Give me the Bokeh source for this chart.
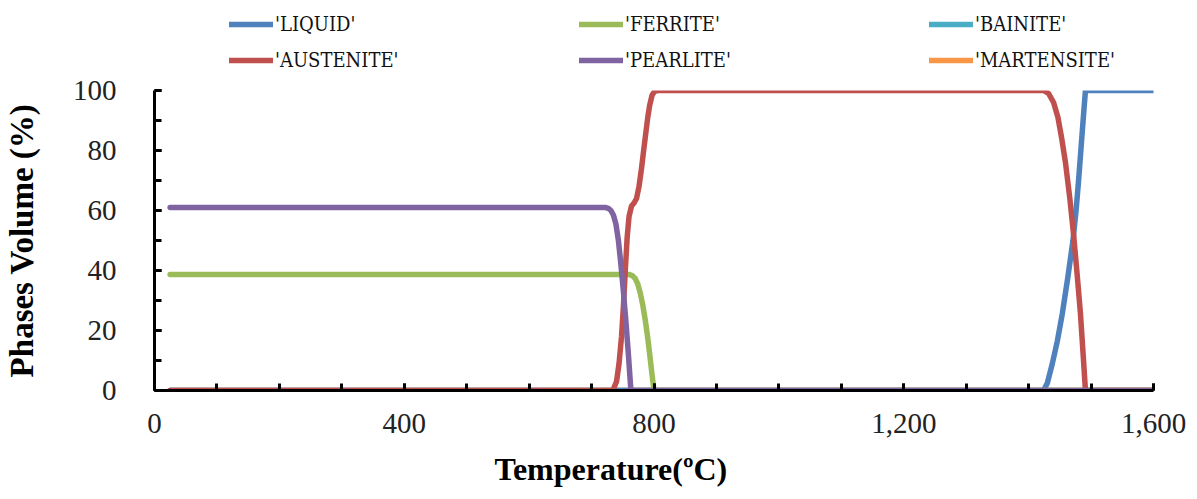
from bokeh.plotting import figure
from bokeh.layouts import column
from bokeh.models import Legend, LegendItem, NumeralTickFormatter, FixedTicker, Title, Range1d
from bokeh.embed import file_html
from bokeh.resources import INLINE

# ---- data ----
T_LIQUID = [25, 1424, 1430, 1438, 1446, 1454, 1463, 1471, 1476, 1480, 1484, 1488, 1491, 1600]
LIQUID = [0, 0, 2.5, 9, 16.5, 25.7, 38, 50, 60, 70, 81, 92, 100, 100]

T_AUSTENITE = [25, 734, 740, 744, 748, 751, 754, 757, 760, 764, 768, 772, 776, 780, 784,
               787, 790, 793, 797, 801, 806,
               1424, 1432, 1440, 1447, 1453, 1459, 1466, 1472, 1478, 1483, 1487, 1491, 1600]
AUSTENITE = [0, 0, 3, 9, 18, 28, 40, 51, 58, 61.5, 62.5, 64, 68, 74, 81,
             86, 91, 95, 98.5, 99.7, 100,
             100, 99, 96, 91, 84, 76, 64, 52, 38, 25.7, 13, 0, 0]

T_FERRITE = [25, 760, 765, 770, 774, 778, 782, 786, 790, 794, 797, 800, 1600]
FERRITE = [38.7, 38.7, 38.3, 37.3, 35.5, 32.5, 28.5, 23.5, 17.5, 10.5, 5, 0, 0]

T_PEARLITE = [25, 722, 727, 731, 735, 739, 743, 747, 751, 755, 759, 763, 1600]
PEARLITE = [61, 61, 60.7, 60, 58.5, 55.5, 50, 42, 33, 23, 12, 0, 0]

T_BAINITE = [25, 1600]
BAINITE = [0, 0]

T_MARTENSITE = [25, 1600]
MARTENSITE = [0, 0]

X_TICKS = [0, 400, 800, 1200, 1600]
Y_TICKS = [0, 20, 40, 60, 80, 100]

SERIES = {
    "LIQUID": (T_LIQUID, LIQUID),
    "FERRITE": (T_FERRITE, FERRITE),
    "BAINITE": (T_BAINITE, BAINITE),
    "AUSTENITE": (T_AUSTENITE, AUSTENITE),
    "PEARLITE": (T_PEARLITE, PEARLITE),
    "MARTENSITE": (T_MARTENSITE, MARTENSITE),
}
LEGEND_ORDER = ["LIQUID", "FERRITE", "BAINITE", "AUSTENITE", "PEARLITE", "MARTENSITE"]
DRAW_ORDER = ["BAINITE", "MARTENSITE", "LIQUID", "FERRITE", "AUSTENITE", "PEARLITE"]
COLORS = {
    "LIQUID": "#4F81BD",
    "AUSTENITE": "#C0504D",
    "FERRITE": "#9BBB59",
    "PEARLITE": "#8064A2",
    "BAINITE": "#4BACC6",
    "MARTENSITE": "#F79646",
}

TOP = 15
p = figure(width=1197, height=499 - 90 + TOP, output_backend="svg", toolbar_location=None,
           x_range=Range1d(0, 1600), y_range=Range1d(0, 100),
           min_border_left=153, min_border_right=44, min_border_top=TOP, min_border_bottom=109)
p.outline_line_color = None
p.xgrid.visible = False
p.ygrid.visible = False

LW = 5.5
kw = dict(line_width=LW, line_cap="round", line_join="round")
for name in DRAW_ORDER:
    xs, ys = SERIES[name]
    p.line(xs, ys, line_color=COLORS[name], **kw)

serif = "Liberation Serif"
for ax in (p.xaxis[0], p.yaxis[0]):
    ax.axis_line_width = 3
    ax.axis_line_color = "black"
    ax.major_tick_line_width = 3
    ax.minor_tick_line_width = 3
    ax.major_tick_line_color = "black"
    ax.minor_tick_line_color = "black"
    ax.major_tick_in = 7
    ax.major_tick_out = 0
    ax.minor_tick_in = 7
    ax.minor_tick_out = 0
    ax.major_label_text_font = serif
    ax.major_label_text_font_size = "29px"
    ax.major_label_text_color = "#222222"

p.xaxis.ticker = FixedTicker(ticks=X_TICKS, minor_ticks=list(range(0, 1601, 100)))
p.yaxis.ticker = FixedTicker(ticks=Y_TICKS, minor_ticks=list(range(0, 101, 10)))
p.xaxis.formatter = NumeralTickFormatter(format="0,0")
p.xaxis.major_label_standoff = 23
p.yaxis.major_label_standoff = 38

xt = Title(text="Temperature(ºC)", align="left", offset=340, standoff=26, text_line_height=0.8,
           text_font=serif, text_font_size="32px", text_font_style="bold", text_color="black")
p.add_layout(xt, "below")

p.yaxis.axis_label = "Phases Volume (%)"
p.yaxis.axis_label_text_font = serif
p.yaxis.axis_label_text_font_size = "33px"
p.yaxis.axis_label_text_font_style = "bold"
p.yaxis.axis_label_text_color = "black"
p.yaxis.axis_label_standoff = 30

# ---- legend strip above the chart (same series, drawn outside its view) ----
LH = 90 - TOP
lg = figure(width=1197, height=LH, output_backend="svg", toolbar_location=None,
            x_range=Range1d(-20, -10), y_range=Range1d(-20, -10),
            min_border_left=153, min_border_right=44, min_border_top=0, min_border_bottom=0,
            x_axis_type=None, y_axis_type=None)
lg.outline_line_color = None
lg.xgrid.visible = False
lg.ygrid.visible = False
rend = {}
for name in LEGEND_ORDER:
    xs, ys = SERIES[name]
    rend[name] = lg.line(xs, ys, line_color=COLORS[name], line_width=LW, line_cap="round")
items = [LegendItem(label="'%s'" % name, renderers=[rend[name]]) for name in LEGEND_ORDER]
legend = Legend(items=items, orientation="horizontal", ncols=3,
                location=(75, 3), padding=0, margin=0, spacing=12,
                glyph_width=44, glyph_height=24, label_standoff=2, label_width=292,
                label_height=24,
                label_text_font="DejaVu Serif Condensed", label_text_font_size="20px",
                label_text_color="#111111",
                border_line_alpha=0, background_fill_alpha=0)
lg.add_layout(legend, "center")

layout = column(lg, p, spacing=0)
open("out.html", "w").write(file_html(layout, INLINE))
